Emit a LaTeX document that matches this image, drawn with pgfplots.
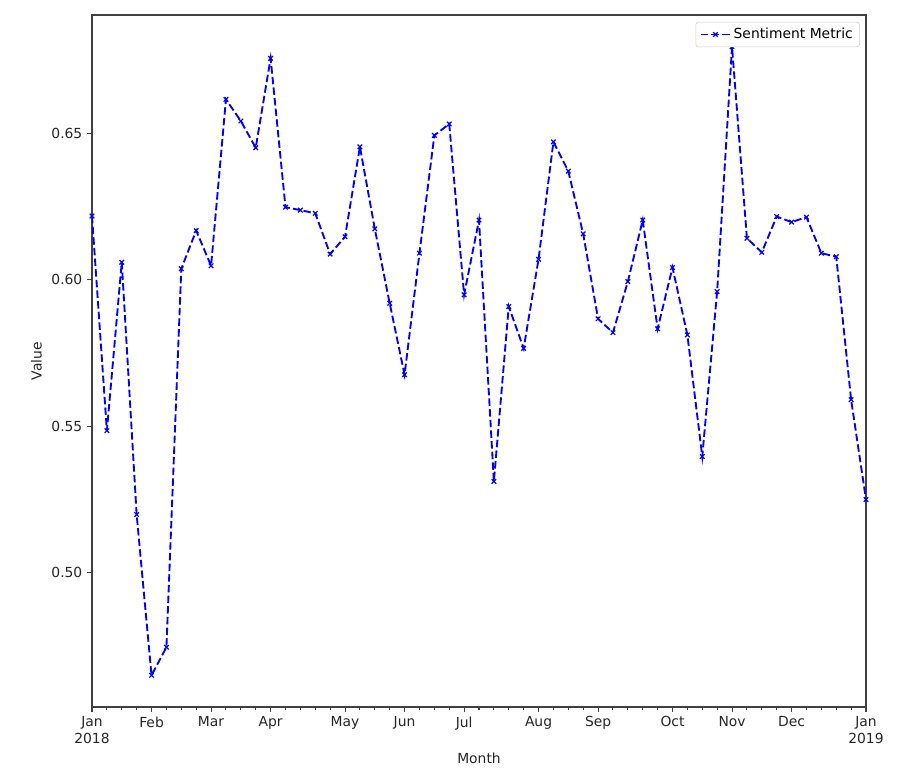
\documentclass[border=0pt]{standalone}
\usepackage{pgfplots}
\pgfplotsset{compat=1.18}
\usepackage{fontspec}
\setmainfont{DejaVu Sans}
\pgfplotstableread{
w v
0 0.6218
1 0.5485
2 0.6060
3 0.5199
4 0.4650
5 0.4746
6 0.6038
7 0.6168
8 0.6048
9 0.6616
10 0.6542
11 0.6451
12 0.6756
13 0.6248
14 0.6238
15 0.6227
16 0.6088
17 0.6147
18 0.6454
19 0.6174
20 0.5920
21 0.5676
22 0.6091
23 0.6493
24 0.6532
25 0.5949
26 0.6204
27 0.5312
28 0.5909
29 0.5766
30 0.6070
31 0.6471
32 0.6371
33 0.6157
34 0.5867
35 0.5820
36 0.5994
37 0.6204
38 0.5833
39 0.6042
40 0.5812
41 0.5397
42 0.5960
43 0.6796
44 0.6142
45 0.6094
46 0.6216
47 0.6197
48 0.6214
49 0.6091
50 0.6079
51 0.5591
52 0.5250
}\datatable
\begin{document}
\fontsize{10.4pt}{12.5pt}\selectfont
\begin{tikzpicture}
\useasboundingbox (-69pt,-56.25pt) rectangle (618.75pt,530.25pt);
\begin{axis}[
  at={(0,0)}, anchor=origin,
  scale only axis,
  width=580.5pt, height=519pt,
  xmin=0, xmax=52,
  ymin=0.4542, ymax=0.6904,
  xtick={0,4,8,12,17,21,25,30,34,39,43,47,52},
  xticklabels={{Jan\\2018},Feb,Mar,Apr,May,Jun,Jul,Aug,Sep,Oct,Nov,Dec,{Jan\\2019}},
  minor xtick={1,2,3,5,6,7,9,10,11,13,14,15,16,18,19,20,22,23,24,26,27,28,29,31,32,33,35,36,37,38,40,41,42,44,45,46,48,49,50,51},
  xticklabel style={align=center, font=\fontsize{10.4pt}{12.5pt}\selectfont, text=black!85},
  ytick={0.50,0.55,0.60,0.65},
  yticklabel style={/pgf/number format/fixed, /pgf/number format/fixed zerofill, /pgf/number format/precision=2, font=\fontsize{10.4pt}{12.5pt}\selectfont, text=black!85},
  /pgf/number format/assume math mode=true,
  scaled y ticks=false,
  tick align=outside,
  xtick pos=bottom, ytick pos=left,
  major tick length=3.6pt, minor tick length=2.1pt,
  every tick/.style={black!75, line width=0.8pt},
  axis line style={black!75, line width=0.8pt},
  xlabel={Month}, ylabel={Value},
  label style={font=\fontsize{10.4pt}{12.5pt}\selectfont, text=black!85},
  legend style={at={(0.992,0.99)}, anchor=north east, draw=black!20, rounded corners=2pt, font=\fontsize{10.4pt}{12.5pt}\selectfont, inner xsep=3pt, inner ysep=2.5pt},
  legend image code/.code={\draw[mark repeat=2,mark phase=2] plot coordinates {(0pt,0pt) (11pt,0pt) (22pt,0pt)};},
  legend cell align=left,
]
\addplot[blue, line width=1.4pt, dash pattern=on 5.6pt off 2.4pt, mark=x, mark size=2.4pt, mark options={solid, line width=0.9pt}] table[x=w, y=v] {\datatable};
\addlegendentry{Sentiment Metric}
\end{axis}
\end{tikzpicture}
\end{document}
